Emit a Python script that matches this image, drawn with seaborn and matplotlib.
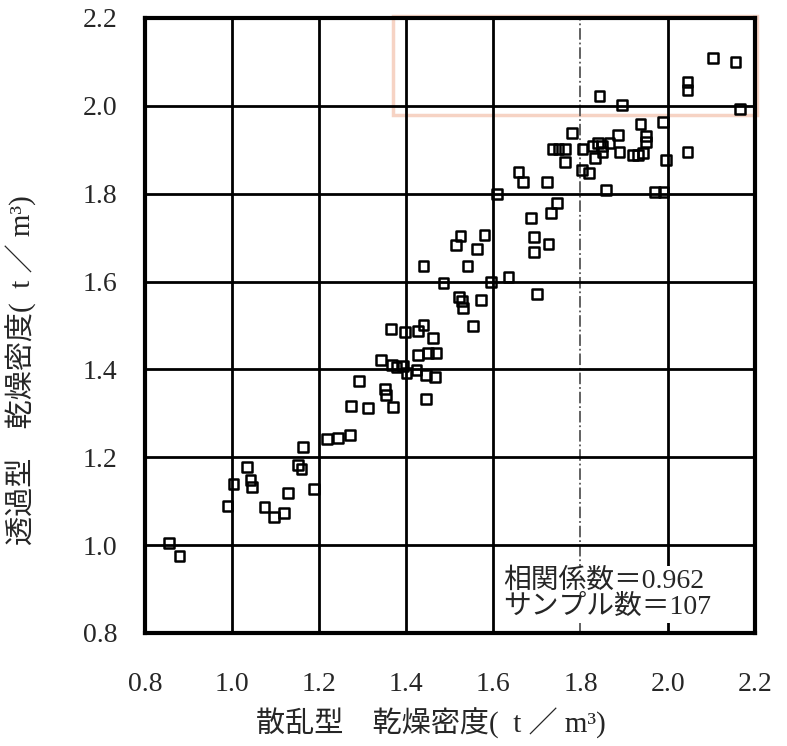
import matplotlib
matplotlib.use("Agg")
import matplotlib.pyplot as plt
import matplotlib.patches as mpatches
import seaborn as sns

# Scatter data
scatter_x = [0.855, 0.880, 0.990, 1.004, 1.034, 1.043, 1.046, 1.075, 1.096, 1.119,
             1.128, 1.188, 1.151, 1.160, 1.163, 1.218, 1.243, 1.271, 1.273, 1.312,
             1.369, 1.291, 1.351, 1.353, 1.342, 1.367, 1.378, 1.392, 1.401, 1.424,
             1.445, 1.466, 1.445, 1.427, 1.450, 1.468, 1.461, 1.365, 1.397, 1.427,
             1.440, 1.486, 1.440, 1.514, 1.562, 1.541, 1.594, 1.635, 1.521, 1.528,
             1.530, 1.571, 1.553, 1.700, 1.525, 1.580, 1.686, 1.693, 1.693, 1.727,
             1.732, 1.746, 1.608, 1.658, 1.668, 1.723, 1.858, 1.971, 1.991, 1.736,
             1.750, 1.764, 1.764, 1.780, 1.805, 1.803, 1.819, 1.828, 1.840, 1.849,
             1.833, 1.851, 1.867, 1.886, 1.890, 1.920, 1.932, 1.943, 1.950, 1.950,
             1.938, 1.989, 1.996, 2.046, 1.844, 1.895, 2.046, 2.046, 2.104, 2.156,
             2.166]
scatter_y = [1.005, 0.975, 1.089, 1.139, 1.178, 1.148, 1.132, 1.087, 1.064, 1.073,
             1.119, 1.128, 1.182, 1.173, 1.223, 1.242, 1.244, 1.251, 1.317, 1.312,
             1.314, 1.374, 1.355, 1.342, 1.421, 1.410, 1.406, 1.408, 1.392, 1.399,
             1.387, 1.383, 1.333, 1.433, 1.437, 1.437, 1.472, 1.492, 1.485, 1.487,
             1.501, 1.597, 1.635, 1.683, 1.674, 1.635, 1.599, 1.610, 1.565, 1.556,
             1.540, 1.558, 1.499, 1.572, 1.704, 1.706, 1.745, 1.701, 1.667, 1.685,
             1.756, 1.779, 1.799, 1.849, 1.827, 1.827, 1.808, 1.804, 1.804, 1.902,
             1.902, 1.902, 1.872, 1.938, 1.902, 1.854, 1.847, 1.909, 1.915, 1.909,
             1.881, 1.895, 1.915, 1.934, 1.895, 1.888, 1.888, 1.893, 1.918, 1.931,
             1.959, 1.963, 1.877, 1.895, 2.022, 2.002, 2.054, 2.036, 2.109, 2.100,
             1.993]

tick_values = [0.8, 1.0, 1.2, 1.4, 1.6, 1.8, 2.0, 2.2]
tick_labels = ["0.8", "1.0", "1.2", "1.4", "1.6", "1.8", "2.0", "2.2"]
grid_solid_x = [1.0, 1.2, 1.4, 1.6, 2.0]
grid_dashed_x = [1.8]
grid_y = [1.0, 1.2, 1.4, 1.6, 1.8, 2.0]

x_label = "散乱型　乾燥密度(  t ／ m³)"
y_label = "透過型　乾燥密度(  t ／ m³)"
note_text = "相関係数＝0.962\nサンプル数＝107"

sns.set_style("white")
plt.rcParams['font.family'] = ['Liberation Serif', 'Noto Sans CJK JP', 'DejaVu Sans']

fig = plt.figure(figsize=(7.87, 7.46), dpi=100)
ax = fig.add_axes([0.184, 0.1515, 0.775, 0.8245])

# Grid lines
for gx in grid_solid_x:
    ax.axvline(gx, color='black', lw=2.0, zorder=1)
for gx in grid_dashed_x:
    ax.axvline(gx, color='#555555', lw=1.3, ls='-.', zorder=1)
for gy in grid_y:
    ax.axhline(gy, color='black', lw=2.0, zorder=1)

# faint scan highlight in the top right corner
ax.add_patch(mpatches.Rectangle((1.37, 1.978), 0.835, 0.227, fill=False,
                                edgecolor='#f6d3c4', lw=2.5, zorder=0.5, clip_on=False))

sns.scatterplot(x=scatter_x, y=scatter_y, ax=ax, marker='s', s=48,
                facecolor='none', edgecolor='black', linewidth=1.8, zorder=3)

ax.set_xlim(0.8, 2.2)
ax.set_ylim(0.8, 2.2)
ax.set_xticks(tick_values)
ax.set_xticklabels(tick_labels)
ax.set_yticks(tick_values)
ax.set_yticklabels(tick_labels)
ax.tick_params(axis='x', length=0, pad=28, labelsize=20)
ax.tick_params(axis='y', length=0, pad=20, labelsize=20)

for side in ax.spines.values():
    side.set_linewidth(3)
    side.set_color('black')

ax.set_xlabel(x_label, fontsize=21)
ax.set_ylabel(y_label, fontsize=21)
ax.xaxis.set_label_coords(0.469, -0.122)
ax.yaxis.set_label_coords(-0.176, 0.428)

ax.text(1.622, 0.83, note_text, fontsize=20, linespacing=1.02, ha='left', va='bottom',
        bbox=dict(facecolor='white', edgecolor='none', pad=2), zorder=4)

plt.savefig('out.png', dpi=100)
